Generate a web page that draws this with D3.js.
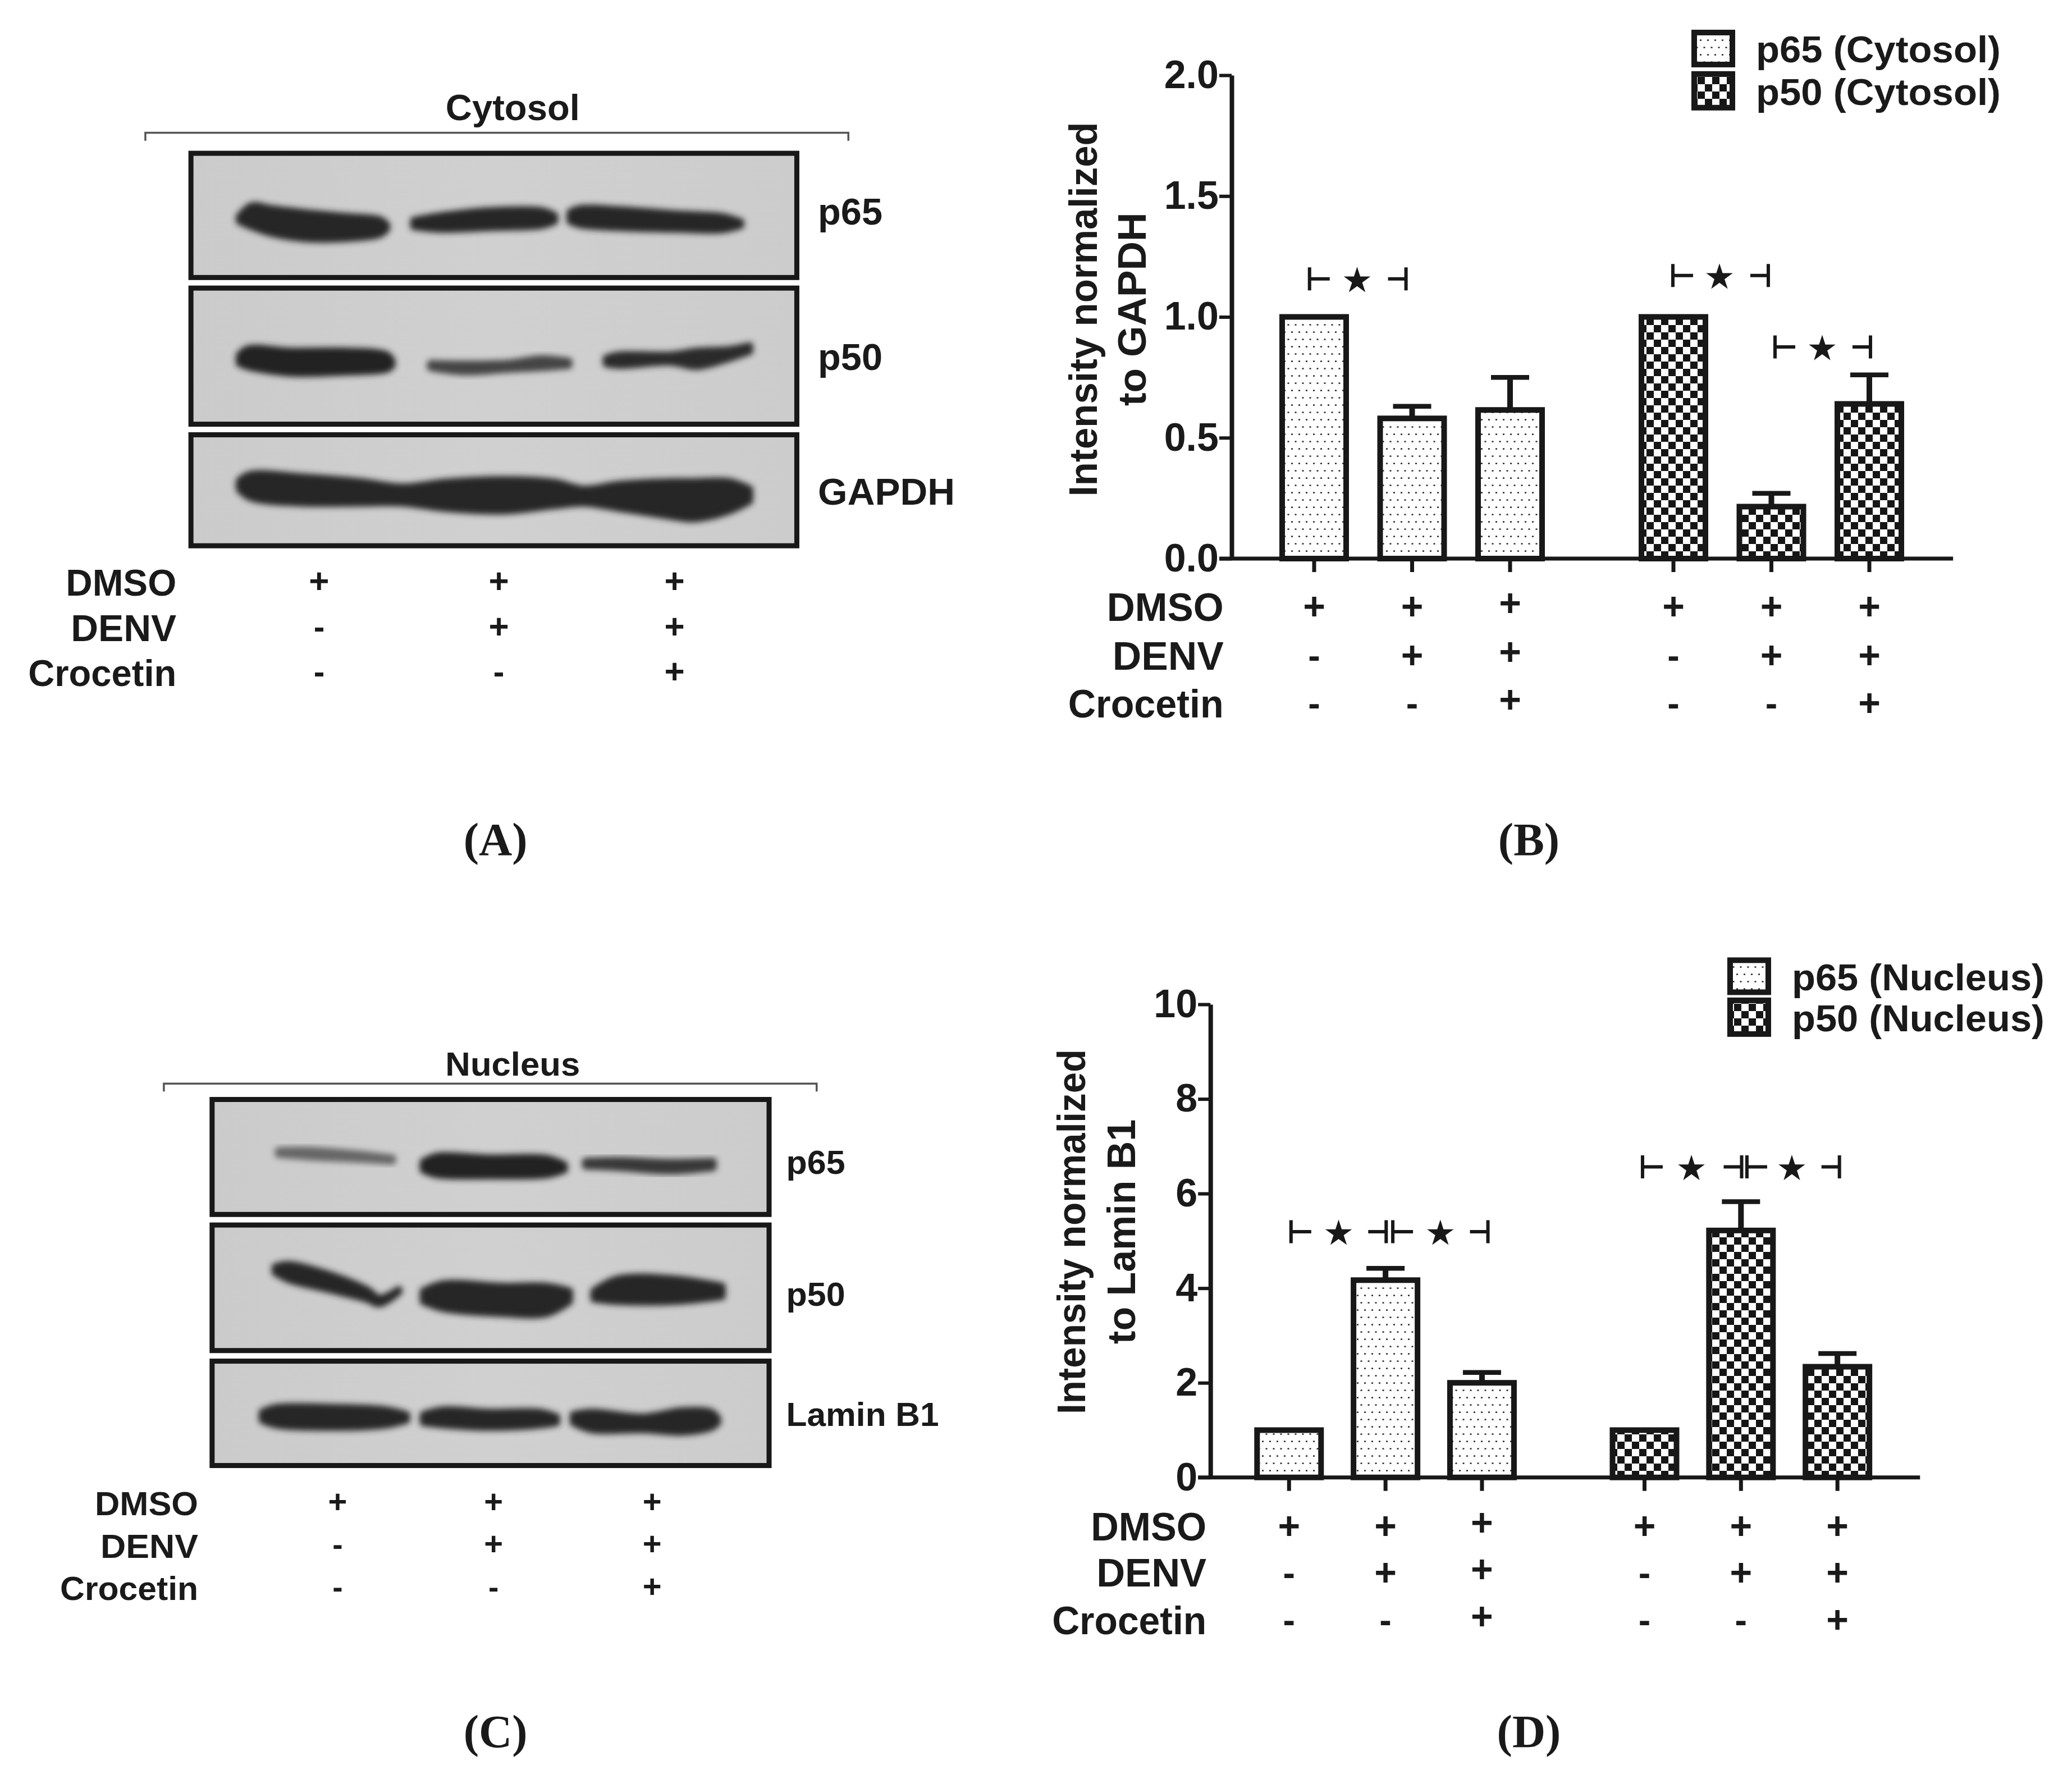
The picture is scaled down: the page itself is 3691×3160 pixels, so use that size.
<!DOCTYPE html>
<html><head><meta charset="utf-8">
<script src="https://cdn.jsdelivr.net/npm/d3@7"></script>
<style>html,body{margin:0;padding:0;background:#fff}svg{display:block}text{font-family:"Liberation Sans",Arial,sans-serif;fill:#1a1a1a}</style>
</head><body><div id="c"></div>
<script>
// ---------- data ----------
const rowNames=["DMSO","DENV","Crocetin"];
const dmsoSigns=["+","+","+"], denvSigns=["-","+","+"], crocetinSigns=["-","-","+"];
const conditions=["vehicle","DENV","DENV+Crocetin"];
const p65Cytosol=[1.0,0.58,0.615], p65CytosolTop=[1.0,0.63,0.75];
const p50Cytosol=[1.0,0.215,0.64], p50CytosolTop=[1.0,0.27,0.76];
const p65Nucleus=[1.0,4.17,2.0], p65NucleusTop=[1.0,4.42,2.22];
const p50Nucleus=[1.0,5.22,2.34], p50NucleusTop=[1.0,5.83,2.62];
const ticksCytosol=[0,0.5,1,1.5,2], ticksNucleus=[0,2,4,6,8,10];
// band outlines as read from the blots: [x, upper edge, lower edge] in picture reading units
const cytoP65Bands=[
 [[372,300,308],[391,280,318],[420,285,330],[470,292,340],[540,300,340],[590,306,332],[600,316,322]],
 [[642,307,318],[680,299,323],[760,289,320],[840,289,316],[860,298,308]],
 [[884,292,308],[900,285,315],[960,287,320],[1050,295,323],[1120,300,324],[1148,310,316]]];
const cytoP50Bands=[
 [[372,558,572],[385,546,578],[450,550,590],[540,550,588],[600,557,583],[608,568,576]],
 [[668,573,580],[720,574,588],[790,572,583],[840,564,580],[882,569,576]],
 [[940,563,573],[960,557,576],[1040,557,570],[1080,550,578],[1130,547,563],[1162,540,550]]];
const cytoGapdhBands=[
 [[372,790,806],[390,778,822],[470,783,832],[560,792,832],[625,802,832],[690,793,842],[780,788,847],[860,793,837],[905,806,832],[960,797,842],[1040,792,857],[1075,792,862],[1130,792,847],[1162,806,828]]];
const nucP65Bands=[
 [[433,289,296],[480,288,301],[560,296,306],[610,304,310]],
 [[658,312,328],[680,300,338],[760,304,340],[850,305,338],[877,318,328]],
 [[910,311,320],[960,309,323],[1040,313,330],[1108,311,323]]];
const nucP50Bands=[
 [[428,527,538],[450,522,553],[510,542,573],[570,574,593],[590,592,603],[620,574,578]],
 [[658,577,598],[690,562,613],[780,567,623],[850,567,623],[885,577,598]],
 [[923,577,593],[960,552,598],[1050,552,598],[1122,567,588]]];
const nucLaminBands=[
 [[408,827,843],[430,817,853],[520,817,858],[600,822,853],[632,832,843]],
 [[658,832,848],[690,822,853],[760,827,858],[840,827,853],[865,837,848]],
 [[891,832,848],[920,827,863],[1000,837,863],[1060,824,868],[1105,827,858],[1115,840,848]]];

// ---------- layout ----------
const W=3691,H=3160,k=W/1568,ink="#181818";
const svg=d3.select("#c").append("svg").attr("width",W).attr("height",H).attr("viewBox",[0,0,W,H]);
const defs=svg.append("defs");
defs.append("filter").attr("id","blur").attr("x","-10%").attr("y","-60%").attr("width","120%").attr("height","220%")
  .append("feGaussianBlur").attr("stdDeviation",5.5);
const dots=defs.append("pattern").attr("id","dots").attr("patternUnits","userSpaceOnUse").attr("x",4).attr("width",13).attr("height",26);
dots.append("rect").attr("width",13).attr("height",26).attr("fill","#fff");
[[3,6.6],[9.5,19.6]].forEach(([x,y])=>dots.append("rect").attr("x",x-1.5).attr("y",y-1.2).attr("width",3).attr("height",2.4).attr("fill","#222"));
const chk=defs.append("pattern").attr("id","check").attr("patternUnits","userSpaceOnUse").attr("x",21).attr("y",20).attr("width",26).attr("height",26);
chk.append("rect").attr("width",26).attr("height",26).attr("fill","#fff");
[[0,0],[13,13]].forEach(([x,y])=>chk.append("rect").attr("x",x).attr("y",y).attr("width",13).attr("height",13).attr("fill","#161616"));

function label(g,x,y,s,o={}){
  const t=g.append("text").attr("x",x).attr("y",y).text(s)
   .attr("font-size",o.size||68).attr("font-weight",o.weight||"bold")
   .attr("text-anchor",o.anchor||"start");
  if(o.width)t.attr("textLength",o.width).attr("lengthAdjust","spacingAndGlyphs");
  if(o.family)t.style("font-family",o.family);
  if(o.rot)t.attr("transform",`rotate(${o.rot},${x},${y})`);
  return t;
}
function signTable(g,cols,rowY,rightX,size,rowWidths,labelSize,jitter){
  const table=[dmsoSigns,denvSigns,crocetinSigns];
  rowNames.forEach((n,r)=>{
    label(g,rightX,rowY[r]+labelSize*0.36,n,{anchor:"end",size:labelSize,width:rowWidths[r]});
    table[r].forEach((s,i)=>cols.forEach((col,gi)=>{
      const dy=(jitter&&gi===0&&i===2&&s==="+")?-6:0;
      label(g,col(i),rowY[r]+size*0.3+dy+(jitter?2:0),s,{anchor:"middle",size:s==="+"?size:size*0.95});
    }));
  });
}
function blot(g,frames,x0,x1,readX,labelX,labelSize){
  frames.forEach(f=>{
    const sx=d3.scaleLinear(readX,[x0,x1]), sy=d3.scaleLinear(f.read,[f.y0,f.y1]);
    const defId="bg"+f.id;
    const gr=defs.append("linearGradient").attr("id",defId).attr("x1",0).attr("x2",1).attr("y1",0).attr("y2",0);
    [["0%","#cbcbcb"],["50%","#d0d0d0"],["100%","#cccccc"]].forEach(([o,c])=>gr.append("stop").attr("offset",o).attr("stop-color",c));
    g.append("rect").attr("x",x0).attr("y",f.y0).attr("width",x1-x0).attr("height",f.y1-f.y0)
      .attr("fill",`url(#${defId})`);
    const area=d3.area().x(d=>sx(d[0])).y0(d=>sy(d[1])).y1(d=>sy(d[2])).curve(d3.curveCatmullRom.alpha(.5));
    const cl=defs.append("clipPath").attr("id","c"+f.id);
    cl.append("rect").attr("x",x0).attr("y",f.y0).attr("width",x1-x0).attr("height",f.y1-f.y0);
    g.append("g").attr("clip-path",`url(#c${f.id})`).selectAll("path").data(f.bands).join("path")
      .attr("d",area).attr("fill",(d,i)=>f.shade?f.shade[i]:"#262626")
      .attr("stroke",(d,i)=>f.shade?f.shade[i]:"#262626").attr("stroke-width",13).attr("stroke-linejoin","round")
      .attr("filter","url(#blur)");
    g.append("rect").attr("x",x0).attr("y",f.y0).attr("width",x1-x0).attr("height",f.y1-f.y0)
      .attr("fill","none").attr("stroke",ink).attr("stroke-width",9);
    label(g,labelX,(f.labelY)+labelSize*0.36,f.label,{size:labelSize,width:f.labelW});
  });
}
function bracket(g,x0,x1,y,drop,color){
  g.append("path").attr("d",`M${x0},${y+drop}V${y}H${x1}V${y+drop}`).attr("fill","none").attr("stroke",color||"#555").attr("stroke-width",3.5);
}

function barPanel(g,cfg){
  const y=d3.scaleLinear(cfg.domain,[cfg.yBottom,cfg.yTop]);
  const xs=cfg.groups.map(gr=>d3.scalePoint(conditions,gr.range));
  // axes
  g.append("g").attr("transform",`translate(${cfg.axisX},0)`)
   .call(d3.axisLeft(y).tickValues(cfg.ticks).tickSize(22).tickSizeOuter(0).tickFormat(cfg.fmt).tickPadding(1))
   .call(a=>{a.select(".domain").attr("stroke",ink).attr("stroke-width",8);
     a.selectAll(".tick line").attr("stroke",ink).attr("stroke-width",6);
     a.selectAll(".tick text").attr("font-size",cfg.tickSize).attr("font-weight","bold").attr("fill",ink).style("font-family",'"Liberation Sans"');});
  // bars
  cfg.groups.forEach((gr,gi)=>{
    const X=xs[gi], gb=g.append("g");
    const withErr=conditions.filter((c,i)=>gr.top[i]>gr.val[i]);
    gb.selectAll("path.stem").data(withErr).join("path")
     .attr("d",c=>{const i=conditions.indexOf(c);return `M${X(c)},${y(gr.val[i])}V${y(gr.top[i])}`;})
     .attr("stroke",ink).attr("stroke-width",10).attr("fill","none");
    gb.selectAll("path.cap").data(withErr).join("path")
     .attr("d",c=>{const i=conditions.indexOf(c);return `M${X(c)-cfg.cap},${y(gr.top[i])}H${X(c)+cfg.cap}`;})
     .attr("stroke",ink).attr("stroke-width",8.5).attr("fill","none");
    gb.selectAll("rect").data(conditions).join("rect")
     .attr("x",c=>X(c)-cfg.barW/2).attr("width",cfg.barW)
     .attr("y",(c,i)=>y(gr.val[i])).attr("height",(c,i)=>y(0)-y(gr.val[i]))
     .attr("fill",`url(#${gr.fill})`).attr("stroke",ink).attr("stroke-width",10);
  });
  // x axis
  const allX=cfg.groups.flatMap((gr,gi)=>conditions.map(c=>xs[gi](c)));
  g.selectAll("line.xt").data(allX).join("line").attr("x1",d=>d).attr("x2",d=>d)
    .attr("y1",y(0)).attr("y2",y(0)+24).attr("stroke",ink).attr("stroke-width",7);
  g.append("line").attr("x1",cfg.axisX-22).attr("x2",cfg.axisEnd).attr("y1",y(0)).attr("y2",y(0)).attr("stroke",ink).attr("stroke-width",7);
  // legend
  cfg.groups.forEach((gr,i)=>{
    const ly=cfg.legendY[i];
    g.append("rect").attr("x",cfg.legendX+3).attr("y",ly-(i?33:31.5)).attr("width",68).attr("height",i?60:57)
      .attr("fill",`url(#${gr.fill})`).attr("stroke",ink).attr("stroke-width",10);
    label(g,cfg.legendX+113,ly+22,gr.name,{size:66,width:cfg.legendW});
  });
  // brackets
  cfg.sig.forEach(s=>{
    const pathH=`M${s.x0},${s.y-20.5}V${s.y+20.5}M${s.x0},${s.y}H${s.x0+36}M${s.x1},${s.y-20.5}V${s.y+20.5}M${s.x1},${s.y}H${s.x1-32}`;
    g.append("path").attr("d",pathH).attr("stroke",ink).attr("stroke-width",6).attr("fill","none");
    g.append("path").attr("d",d3.symbol(d3.symbolStar,700)()).attr("transform",`translate(${s.star},${s.y+3.5})`).attr("fill",ink);
  });
  // axis title
  cfg.title.forEach(t=>label(g,t.x,t.y,t.s,{anchor:"middle",size:70,rot:-90,width:t.w}));
  signTable(g,xs.map(X=>(i=>X(conditions[i]))),cfg.rowY,cfg.rowRight,68,cfg.rowW,70,true);
}

// ---------- panel A ----------
const A=svg.append("g");
label(A,388*k,91*k,"Cytosol",{anchor:"middle",size:64,width:239});
bracket(A,110*k,642*k,100.5*k,6*k);
blot(A,[
 {id:"a1",y0:116*k,y1:210*k,read:[182,413],bands:cytoP65Bands,label:"p65",labelY:160*k,labelW:115},
 {id:"a2",y0:218*k,y1:321*k,read:[433,685],bands:cytoP50Bands,shade:["#222","#444","#2a2a2a"],label:"p50",labelY:270*k,labelW:115},
 {id:"a3",y0:329*k,y1:413*k,read:[703,913],bands:cytoGapdhBands,label:"GAPDH",labelY:372*k,labelW:244}
],144.5*k,603*k,[297,1235],619*k,66);
signTable(A,[i=>[241.5*k,377.5*k,510.5*k][i]],[440.5*k,475*k,509*k],133.5*k,62,[197,188,264],66,false);

// ---------- panel C ----------
const C=svg.append("g");
label(C,388*k,814*k,"Nucleus",{anchor:"middle",size:60,width:240});
bracket(C,124*k,618*k,820*k,6*k);
blot(C,[
 {id:"c1",y0:832*k,y1:919*k,read:[183,420],bands:nucP65Bands,shade:["#666","#222","#383838"],label:"p65",labelY:879*k,labelW:105},
 {id:"c2",y0:927*k,y1:1022*k,read:[440,700],bands:nucP50Bands,label:"p50",labelY:979*k,labelW:105},
 {id:"c3",y0:1030*k,y1:1109*k,read:[720,938],bands:nucLaminBands,label:"Lamin B1",labelY:1070*k,labelW:272}
],160.5*k,582*k,[330,1195],595*k,60);
signTable(C,[i=>[255.5*k,373.5*k,493.5*k][i]],[1137.5*k,1169.5*k,1201.5*k],150*k,58,[184,174,246],60,false);

// ---------- panel B ----------
barPanel(svg.append("g"),{domain:[0,2],yBottom:995,yTop:134,axisX:2194,axisEnd:1478*k,ticks:ticksCytosol,fmt:d3.format(".1f"),tickSize:70,
 barW:114,cap:34,
 groups:[{name:"p65 (Cytosol)",fill:"dots",val:p65Cytosol,top:p65CytosolTop,range:[2341,2690]},
         {name:"p50 (Cytosol)",fill:"check",val:p50Cytosol,top:p50CytosolTop,range:[2981,3330]}],
 legendX:3015,legendY:[38*k,70*k],legendW:436,
 sig:[{x0:991*k,x1:1064*k,star:1027*k,y:211*k},{x0:2980,x1:3150,star:3063,y:490.7},{x0:3162,x1:3332,star:3246,y:618}],
 title:[{x:830*k,y:234*k,s:"Intensity normalized",w:667},{x:867*k,y:234*k,s:"to GAPDH",w:345}],
 rowY:[459*k,496*k,532*k],rowRight:926*k,rowW:[208,198,277]});

// ---------- panel D ----------
barPanel(svg.append("g"),{domain:[0,10],yBottom:1118*k,yTop:760*k,axisX:916*k,axisEnd:1453*k,ticks:ticksNucleus,fmt:d3.format("d"),tickSize:70,
 barW:114,cap:34,
 groups:[{name:"p65 (Nucleus)",fill:"dots",val:p65Nucleus,top:p65NucleusTop,range:[975.5*k,1121.5*k]},
         {name:"p50 (Nucleus)",fill:"check",val:p50Nucleus,top:p50NucleusTop,range:[1244.5*k,1390.5*k]}],
 legendX:1308*k,legendY:[740*k,771*k],legendW:450,
 sig:[{x0:977*k,x1:1049*k,star:1013*k,y:932*k},{x0:1054*k,x1:1126*k,star:1090*k,y:932*k},
      {x0:1243*k,x1:1318*k,star:1280*k,y:883*k},{x0:1322*k,x1:1392*k,star:1356*k,y:883*k}],
 title:[{x:821*k,y:932*k,s:"Intensity normalized",w:650},{x:859*k,y:932*k,s:"to Lamin B1",w:400}],
 rowY:[1155*k,1190*k,1226*k],rowRight:913*k,rowW:[206,196,275]});

// ---------- panel letters ----------
const serif='"Liberation Serif",serif';
[["(A)",375,647],["(B)",1157,647],["(C)",375,1322],["(D)",1157,1322]].forEach(([s,x,y])=>
  label(svg,x*k,y*k,s,{anchor:"middle",size:82,family:serif}));
</script></body></html>
